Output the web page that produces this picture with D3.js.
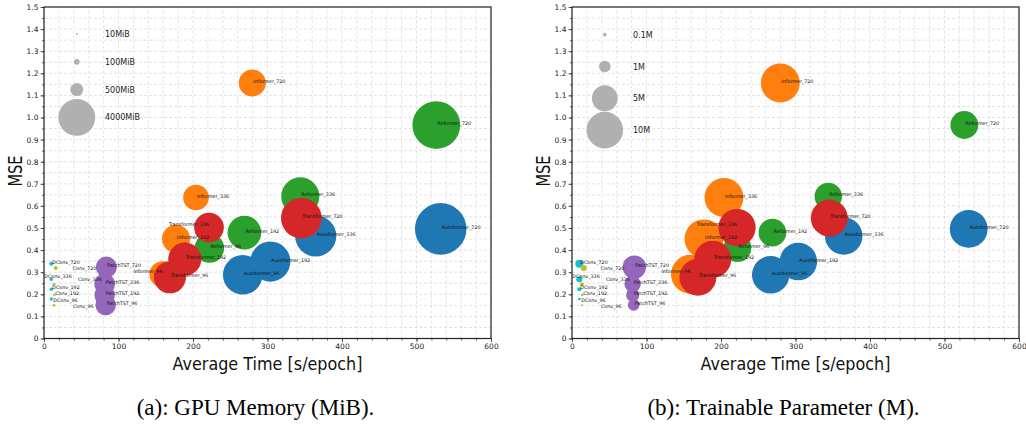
<!DOCTYPE html>
<html>
<head>
<meta charset="utf-8">
<script src="https://cdn.jsdelivr.net/npm/d3@7"></script>
<style>
  html, body { margin: 0; padding: 0; background: #fff; }
  svg { display: block; }
  text { font-family: "DejaVu Sans", sans-serif; }
  text.caption { font-family: "Liberation Serif", "Times New Roman", serif; }
</style>
</head>
<body>
<svg id="chart" width="1026" height="425"></svg>
<script>
// ---------------- DATA ----------------
const models = [
  "Autoformer_96","Autoformer_192","Autoformer_336","Autoformer_720",
  "Informer_96","Informer_192","Informer_336","Informer_720",
  "Reformer_96","Reformer_192","Reformer_336","Reformer_720",
  "Transformer_96","Transformer_192","Transformer_336","Transformer_720",
  "PatchTST_96","PatchTST_192","PatchTST_336","PatchTST_720",
  "DConv_96","DConv_192","DConv_336","DConv_720",
  "Conv_96","Conv_192","Conv_336","Conv_720"
];
const families = [
  "Autoformer","Autoformer","Autoformer","Autoformer",
  "Informer","Informer","Informer","Informer",
  "Reformer","Reformer","Reformer","Reformer",
  "Transformer","Transformer","Transformer","Transformer",
  "PatchTST","PatchTST","PatchTST","PatchTST",
  "DConv","DConv","DConv","DConv",
  "Conv","Conv","Conv","Conv"
];
// average training time per epoch (s)
const avgTime = [
  266.7, 303.8, 364.7, 532.5,
  159.0, 177.2, 204.0, 279.6,
  222.0, 269.0, 344.0, 526.6,
  169.0, 189.0, 221.5, 345.4,
  82.8, 81.4, 81.4, 83.7,
  9.8, 9.8, 9.8, 9.8,
  13.4, 13.8, 13.4, 15.7
];
const mse = [
  0.288, 0.348, 0.464, 0.496,
  0.291, 0.451, 0.638, 1.156,
  0.409, 0.479, 0.643, 0.966,
  0.277, 0.359, 0.502, 0.545,
  0.152, 0.197, 0.247, 0.323,
  0.179, 0.223, 0.268, 0.338,
  0.150, 0.197, 0.245, 0.319
];
// GPU memory (MiB)
const gpuMemory = [
  4600, 4750, 5000, 7850,
  2000, 2330, 1950, 2170,
  2570, 3350, 4290, 6740,
  3040, 3240, 2600, 4900,
  1250, 1250, 1280, 1320,
  30, 34, 38, 45,
  20, 20, 22, 45
];
// trainable parameters (M)
const trainableParams = [
  10.5, 10.5, 10.5, 10.7,
  11.3, 11.3, 11.3, 11.3,
  5.8, 5.7, 5.6, 5.8,
  10.2, 10.2, 10.4, 10.2,
  1.0, 1.3, 2.0, 4.1,
  0.05, 0.12, 0.27, 0.48,
  0.03, 0.05, 0.12, 0.27
];
const familyNames  = ["Autoformer","Informer","Reformer","Transformer","PatchTST","DConv","Conv"];
const familyColors = ["#1f77b4","#ff7f0e","#2ca02c","#d62728","#9467bd","#17becf","#bcbd22"];

const memLegendValues = [10, 100, 500, 4000];
const memLegendLabels = ["10MiB", "100MiB", "500MiB", "4000MiB"];
const paramLegendValues = [0.1, 1, 5, 10];
const paramLegendLabels = ["0.1M", "1M", "5M", "10M"];

const xTicks = [0, 100, 200, 300, 400, 500, 600];
const yTicks = [0, 0.1, 0.2, 0.3, 0.4, 0.5, 0.6, 0.7, 0.8, 0.9, 1.0, 1.1, 1.2, 1.3, 1.4, 1.5];

const xLabel = "Average Time [s/epoch]";
const yLabel = "MSE";
const captions = ["(a): GPU Memory (MiB).", "(b): Trainable Parameter (M)."];

// label nudges (pixels) applied to some point labels (repelled labels)
const labelNudge = {
  "Conv_720": {dx: 17, dy: 2},
  "DConv_336": {dx: -7, dy: -1},
  "Conv_336": {dx: 24, dy: -3},
  "Conv_96": {dx: 19, dy: 3},
  "DConv_96": {dx: 2, dy: 3},
  "Transformer_336": {dx: 0, dy: -2, anchor: "end"},
  "Informer_96": {dx: 0, dy: -1, anchor: "end"}
};

// ---------------- DRAW ----------------
const svg = d3.select("#chart");
const color = d3.scaleOrdinal(familyNames, familyColors);
const yScale = d3.scaleLinear([0, 1.5], [338.5, 7]);

const panels = [
  {x0: 44, x1: 491, sizes: gpuMemory, sizeScale: d3.scaleSqrt([0, 4000], [0, 18.4]),
   legVals: memLegendValues, legLabels: memLegendLabels, legY0: 34, legStep: 27.8, caption: captions[0]},
  {x0: 572, x1: 1019, sizes: trainableParams, sizeScale: d3.scaleSqrt([0, 10], [0, 18.3]),
   legVals: paramLegendValues, legLabels: paramLegendLabels, legY0: 34.7, legStep: 31.8, caption: captions[1]}
];

const rows = models.map((m, i) => ({name: m, fam: families[i], t: avgTime[i], mse: mse[i], i}));

panels.forEach(p => {
  const x = d3.scaleLinear([0, 600], [p.x0, p.x1]);
  const y = yScale;
  const g = svg.append("g");

  // grid
  const gx = d3.range(0, 600.01, 20);
  const gy = d3.range(0, 1.5001, 0.05);
  g.append("g").selectAll("line").data(gx).join("line")
    .attr("x1", d => x(d)).attr("x2", d => x(d))
    .attr("y1", y(0)).attr("y2", y(1.5))
    .attr("stroke", "#dcdcdc").attr("stroke-width", 0.8).attr("stroke-dasharray", "3,2");
  g.append("g").selectAll("line").data(gy).join("line")
    .attr("y1", d => y(d)).attr("y2", d => y(d))
    .attr("x1", x(0)).attr("x2", x(600))
    .attr("stroke", "#dcdcdc").attr("stroke-width", 0.8).attr("stroke-dasharray", "3,2");

  // legend
  const leg = g.append("g");
  p.legVals.forEach((v, k) => {
    const cy = p.legY0 + k * p.legStep;
    leg.append("circle").attr("cx", p.x0 + 32.8).attr("cy", cy)
      .attr("r", p.sizeScale(v)).attr("fill", "#b0b0b0");
    leg.append("text").attr("x", p.x0 + 61).attr("y", cy + 3)
      .attr("font-size", 8).attr("fill", "#222").text(p.legLabels[k]);
  });

  // bubbles
  g.append("g").selectAll("circle").data(rows).join("circle")
    .attr("cx", d => x(d.t)).attr("cy", d => y(d.mse))
    .attr("r", d => p.sizeScale(p.sizes[d.i]))
    .attr("fill", d => color(d.fam));

  // point labels
  g.append("g").selectAll("text").data(rows).join("text")
    .attr("x", d => x(d.t) + (labelNudge[d.name] ? labelNudge[d.name].dx : 1))
    .attr("y", d => y(d.mse) + (labelNudge[d.name] ? labelNudge[d.name].dy : 0))
    .attr("text-anchor", d => (labelNudge[d.name] && labelNudge[d.name].anchor) || "start")
    .attr("font-size", 4.8).attr("fill", "#111")
    .text(d => d.name);

  // axes
  const xAxis = d3.axisBottom(x).tickValues(xTicks).tickFormat(d3.format("d")).tickSize(3.5).tickPadding(2);
  const xMinor = d3.axisBottom(x).tickValues(d3.range(0, 600.01, 20)).tickFormat("").tickSize(2);
  const yAxis = d3.axisLeft(y).tickValues(yTicks)
    .tickFormat(d => d === 0 ? "0" : d3.format(".1f")(d)).tickSize(3.5).tickPadding(2);
  const yMinor = d3.axisLeft(y).tickValues(d3.range(0, 1.5001, 0.05)).tickFormat("").tickSize(2);

  const axX = g.append("g").attr("transform", `translate(0,${y(0)})`).call(xAxis);
  g.append("g").attr("transform", `translate(0,${y(0)})`).call(xMinor).select(".domain").remove();
  const axY = g.append("g").attr("transform", `translate(${x(0)},0)`).call(yAxis);
  g.append("g").attr("transform", `translate(${x(0)},0)`).call(yMinor).select(".domain").remove();
  [axX, axY].forEach(a => {
    a.selectAll("text").attr("font-size", 7.5).attr("fill", "#222");
    a.select(".domain").remove();
  });
  g.selectAll(".tick line").attr("stroke", "#333").attr("stroke-width", 0.8);

  // frame
  g.append("rect").attr("x", x(0)).attr("y", y(1.5))
    .attr("width", x(600) - x(0)).attr("height", y(0) - y(1.5))
    .attr("fill", "none").attr("stroke", "#222").attr("stroke-width", 1.2);

  // axis labels
  g.append("text").attr("x", (p.x0 + p.x1) / 2).attr("y", 370)
    .attr("text-anchor", "middle").attr("font-size", 18).attr("fill", "#111")
    .attr("textLength", 190).attr("lengthAdjust", "spacingAndGlyphs")
    .text(xLabel);
  g.append("text").attr("transform", `translate(${p.x0 - 22},171) rotate(-90)`)
    .attr("text-anchor", "middle").attr("font-size", 20).attr("fill", "#111")
    .attr("textLength", 31).attr("lengthAdjust", "spacingAndGlyphs")
    .text(yLabel);

  // caption
  svg.append("text").attr("class", "caption")
    .attr("x", (p.x0 + p.x1) / 2 - 12).attr("y", 415)
    .attr("text-anchor", "middle").attr("font-size", 23).attr("fill", "#000")
    .text(p.caption);
});
</script>
</body>
</html>
